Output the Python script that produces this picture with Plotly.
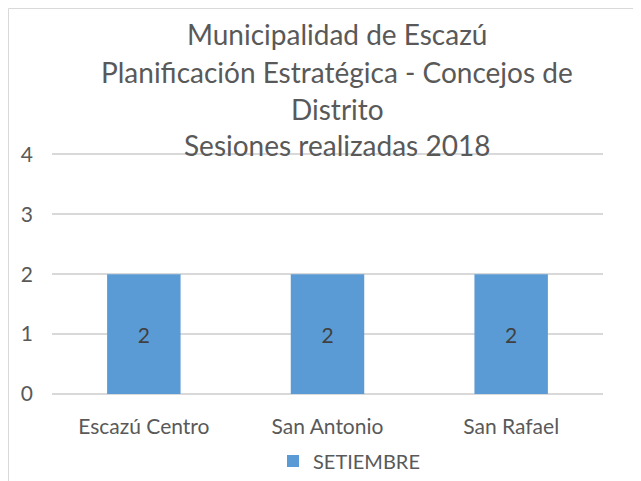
import plotly.graph_objects as go

categories = ["Escazú Centro", "San Antonio", "San Rafael"]
setiembre = [2, 2, 2]
series_name = "SETIEMBRE"
title_lines = [
    "Municipalidad de Escazú",
    "Planificación Estratégica - Concejos de",
    "Distrito",
    "Sesiones realizadas 2018",
]
y_ticks = [0, 1, 2, 3, 4]

# page has an 8px body margin: figure coords = page coords - 8
W, H = 633, 473
L, R, T, B = 44, 38, 144, 87
FONT = "Lato"
GRAY = "#595959"
YMAX = 4.04

def px_to_py(ypx):
    return (H - B - ypx) / (H - B - T)

def px_to_px(xpx):
    return (xpx - L) / (W - L - R)

fig = go.Figure()
fig.add_trace(go.Bar(
    x=categories, y=setiembre, name=series_name,
    marker=dict(color="#5B9BD5", line=dict(width=0)),
    text=setiembre, textposition="inside", insidetextanchor="middle",
    textfont=dict(family=FONT, size=21, color="#404040"),
    showlegend=True,
))

title_centers = [26, 64, 101, 137]
annotations = []
for line, yc in zip(title_lines, title_centers):
    annotations.append(dict(
        text=line, xref="paper", yref="paper",
        x=px_to_px(329), y=px_to_py(yc), xanchor="center", yanchor="middle",
        showarrow=False, font=dict(family=FONT, size=28, color=GRAY),
    ))

shapes = [
    dict(type="line", xref="paper", yref="paper",
         x0=px_to_px(0.5), x1=px_to_px(0.5), y0=px_to_py(0.5), y1=px_to_py(480),
         line=dict(color="#D9D9D9", width=1)),
    dict(type="line", xref="paper", yref="paper",
         x0=px_to_px(0.5), x1=px_to_px(640), y0=px_to_py(0.5), y1=px_to_py(0.5),
         line=dict(color="#D9D9D9", width=1)),
]

fig.update_layout(
    width=W, height=H, autosize=False,
    margin=dict(l=L, r=R, t=T, b=B, pad=0, autoexpand=False),
    paper_bgcolor="white", plot_bgcolor="white",
    bargap=0.6,
    font=dict(family=FONT, color=GRAY, size=21),
    annotations=annotations,
    shapes=shapes,
    showlegend=True,
    legend=dict(
        orientation="h", x=px_to_px(265), y=px_to_py(453),
        xanchor="left", yanchor="middle",
        font=dict(family=FONT, size=20, color=GRAY),
        bgcolor="rgba(0,0,0,0)",
    ),
    xaxis=dict(
        showgrid=False, showline=False, zeroline=False, automargin=False,
        tickfont=dict(family=FONT, size=21, color=GRAY),
        ticks="", ticklabelstandoff=18,
    ),
    yaxis=dict(
        range=[0, YMAX], tickvals=y_ticks, automargin=False,
        showgrid=True, gridcolor="#D9D9D9", gridwidth=1.5,
        zeroline=True, zerolinecolor="#D9D9D9", zerolinewidth=1.5,
        showline=False, ticks="",
        tickfont=dict(family=FONT, size=21, color=GRAY),
        ticklabelstandoff=18,
    ),
)

fig.write_html("out.html")
